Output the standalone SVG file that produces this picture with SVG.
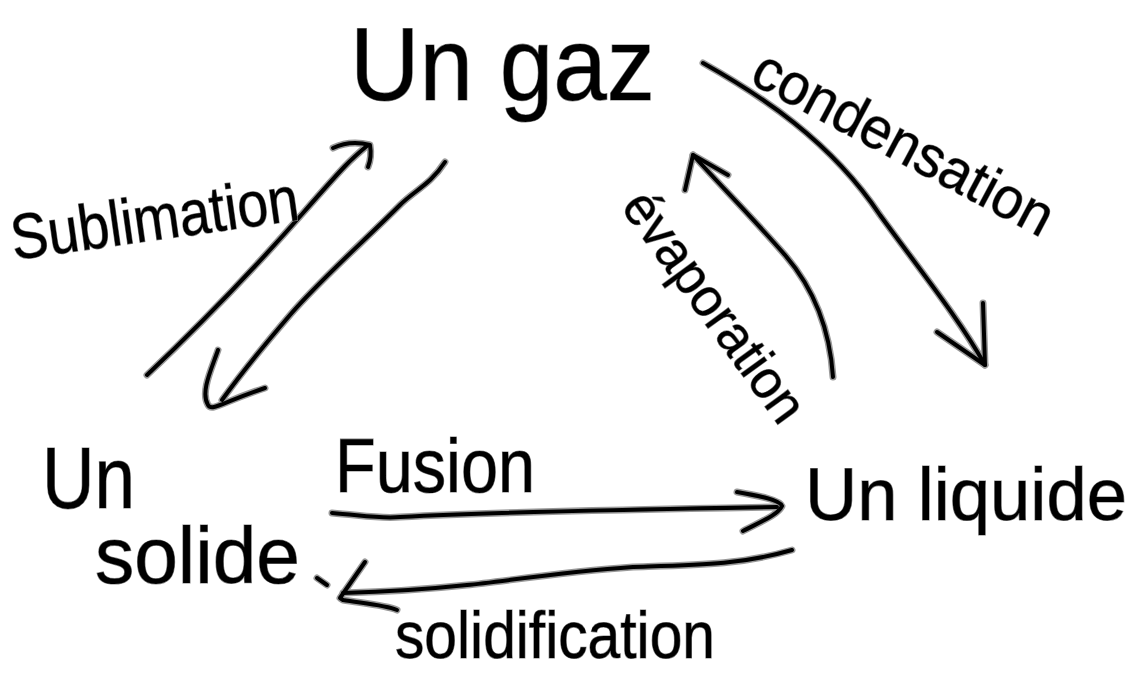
<svg xmlns="http://www.w3.org/2000/svg" width="1141" height="674" viewBox="0 0 1141 674">
<style>
.halo{fill:none;stroke:#999;stroke-width:7;stroke-linecap:round;stroke-linejoin:round}
.ink{fill:none;stroke:#000;stroke-width:4;stroke-linecap:round;stroke-linejoin:round}
.t{font-family:"Liberation Sans","DejaVu Sans",sans-serif;fill:#000;stroke:#888;stroke-width:1.2;paint-order:stroke}
</style>
<defs>
<path id="p-sub" d="M147,375 C200,325 260,262 303,213 S350,160 368,145"/>
<path id="h-sub" d="M333,148 Q350,140 370,145 Q372,157 368,167"/>
<path id="p-dep" d="M445,162 C430,185 415,190 400,205 C360,245 320,280 290,315 C260,350 240,375 222,400"/>
<path id="h-dep" d="M218,350 C212,368 200,392 208,405 C212,412 222,402 265,388"/>
<path id="p-con" d="M703,63 C760,95 830,140 880,215 C920,270 960,320 985,365"/>
<path id="h-con" d="M937,332 L985,365 L983,303"/>
<path id="p-eva" d="M833,377 C830,330 815,290 785,255 C750,215 720,185 693,155"/>
<path id="h-eva" d="M685,190 L693,155 L728,175"/>
<path id="p-fus" d="M332,513 C360,515 380,519 400,517 C500,512 650,509 777,507"/>
<path id="h-fus" d="M737,492 C760,496 780,500 782,506 C778,515 760,522 743,531"/>
<path id="p-sol" d="M792,550 C740,565 700,565 633,567 C560,572 500,582 467,585 C420,590 380,592 343,593"/>
<path id="h-sol" d="M365,562 L340,598 L343,600 C360,603 385,605 397,610"/>
<path id="d-sol" d="M317,578 L327,585"/>
</defs>
<rect width="1141" height="674" fill="#fff"/>
<g id="gaz">
<text class="t" x="350" y="100" font-size="104" textLength="305" lengthAdjust="spacingAndGlyphs">Un gaz</text>
</g>
<g id="solide">
<text class="t" x="42" y="508" font-size="88" textLength="93" lengthAdjust="spacingAndGlyphs">Un</text>
<text class="t" x="95" y="583" font-size="80" textLength="205" lengthAdjust="spacingAndGlyphs">solide</text>
</g>
<g id="liquide">
<text class="t" x="805" y="520" font-size="74" textLength="322" lengthAdjust="spacingAndGlyphs">Un liquide</text>
</g>
<g id="connectors">
<g id="sublimation">
<use href="#p-sub" class="halo"/><use href="#h-sub" class="halo"/>
<use href="#p-sub" class="ink"/><use href="#h-sub" class="ink"/>
<text class="t" font-size="64" transform="translate(14,260) rotate(-8)" textLength="290" lengthAdjust="spacingAndGlyphs">Sublimation</text>
</g>
<g id="deposition">
<use href="#p-dep" class="halo"/><use href="#h-dep" class="halo"/>
<use href="#p-dep" class="ink"/><use href="#h-dep" class="ink"/>
</g>
<g id="condensation">
<use href="#p-con" class="halo"/><use href="#h-con" class="halo"/>
<use href="#p-con" class="ink"/><use href="#h-con" class="ink"/>
<text class="t" font-size="58" transform="translate(748,82) rotate(28)" textLength="332" lengthAdjust="spacingAndGlyphs">condensation</text>
</g>
<g id="evaporation">
<use href="#p-eva" class="halo"/><use href="#h-eva" class="halo"/>
<use href="#p-eva" class="ink"/><use href="#h-eva" class="ink"/>
<text class="t" font-size="54" transform="translate(620,207) rotate(54)" textLength="272" lengthAdjust="spacingAndGlyphs">évaporation</text>
</g>
<g id="fusion">
<use href="#p-fus" class="halo"/><use href="#h-fus" class="halo"/>
<use href="#p-fus" class="ink"/><use href="#h-fus" class="ink"/>
<text class="t" x="335" y="492" font-size="76" textLength="200" lengthAdjust="spacingAndGlyphs">Fusion</text>
</g>
<g id="solidification">
<use href="#p-sol" class="halo"/><use href="#h-sol" class="halo"/><use href="#d-sol" class="halo"/>
<use href="#p-sol" class="ink"/><use href="#h-sol" class="ink"/><use href="#d-sol" class="ink"/>
<text class="t" x="395" y="658" font-size="66" textLength="320" lengthAdjust="spacingAndGlyphs">solidification</text>
</g>
</g>
</svg>
